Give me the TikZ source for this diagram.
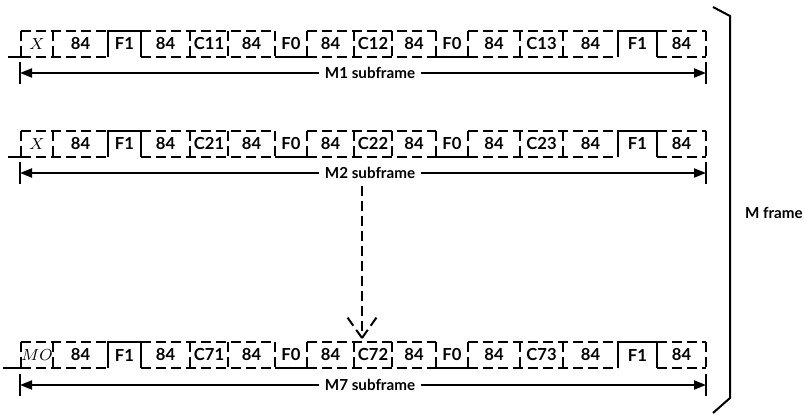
\documentclass[tikz,border=0pt]{standalone}
\usepackage{fontspec}
\setmainfont{Lato}
\usepackage{tikz}
\usetikzlibrary{arrows.meta,positioning,calc}

\begin{document}
\begin{tikzpicture}[x=0.5pt,y=-0.5pt,line width=1pt,
  dsh/.style={dash pattern=on 5pt off 2.5pt},
  cell/.style={font=\fontsize{8.3}{10}\selectfont\bfseries,inner sep=0pt},
  span/.style={font=\fontsize{7.6}{10}\selectfont\bfseries,fill=white,inner sep=2.5pt},
  tip/.style={-{Triangle[length=6pt,width=4.5pt]}}]
  \useasboundingbox (0,0) rectangle (804,415); % 画像全体の範囲
  \foreach \r/\T/\fst/\A/\s in {1/31/X/73/8, 2/131/X/173/8, 7/342/MO/385/3}{
    \pgfmathsetmacro{\B}{\T+26} % 下側のレベル
    \draw (\s,\B) -- (21,\B); % 先頭の短い低レベル線
    \foreach \a/\b in {21/108,141/275,307/436,468/618,657/706}
      \draw[dsh] (\a,\T) -- (\b,\T) (\a,\B) -- (\b,\B); % 不定ビット（上下とも破線）
    \foreach \a/\b in {108/141,618/657}
      \draw (\a,\B) -- (\a,\T) -- (\b,\T) -- (\b,\B); % F1：高レベル
    \foreach \a/\b in {275/307,436/468}
      \draw (\a,\B) -- (\b,\B); % F0：低レベル
    \foreach \x in {21,53,190,228,275,307,354,392,436,468,520,563,706}
      \draw[dsh] (\x,\T) -- (\x,\B); % 区切りの縦線
    \foreach \a/\b/\t [count=\i] in {21/53/{$\fst$},53/108/84,108/141/F1,141/190/84,
        190/228/C\r1,228/275/84,275/307/F0,307/354/84,354/392/C\r2,392/436/84,
        436/468/F0,468/520/84,520/563/C\r3,563/618/84,618/657/F1,657/706/84}
      \node[cell] (l\r-\i) at ({(\a+\b)/2},\T+13) {\t}; % 各区間のラベル
    \coordinate (s\r) at (20,\A); % サブフレームの始点
    \coordinate (e\r) at (706,\A); % サブフレームの終点
    \node[span] (m\r) at (370,\A) {M\r{} subframe};
    \draw[tip] (m\r) -- (s\r);
    \draw[tip] (m\r) -- (e\r);
    \draw ($(s\r)+(0,-11)$) -- ($(s\r)+(0,11)$); % 端の縦棒
    \draw ($(e\r)+(0,-11)$) -- ($(e\r)+(0,11)$);
  }
  \coordinate (d0) at (362,186); % 省略を示す破線矢印
  \coordinate (d1) at (362,338);
  \draw[dsh] (d0) -- (d1);
  \draw[dsh] (d1) -- ($(d1)+(-17,-24)$);
  \draw[dsh] (d1) -- ($(d1)+(17,-24)$);
  \draw (713,7) -- (730,16) -- (730,398) -- (713,413); % M フレームの括弧
  \node[span,fill=none,inner sep=0pt,anchor=west] (mf) at (744,213) {M frame};
\end{tikzpicture}
\end{document}
